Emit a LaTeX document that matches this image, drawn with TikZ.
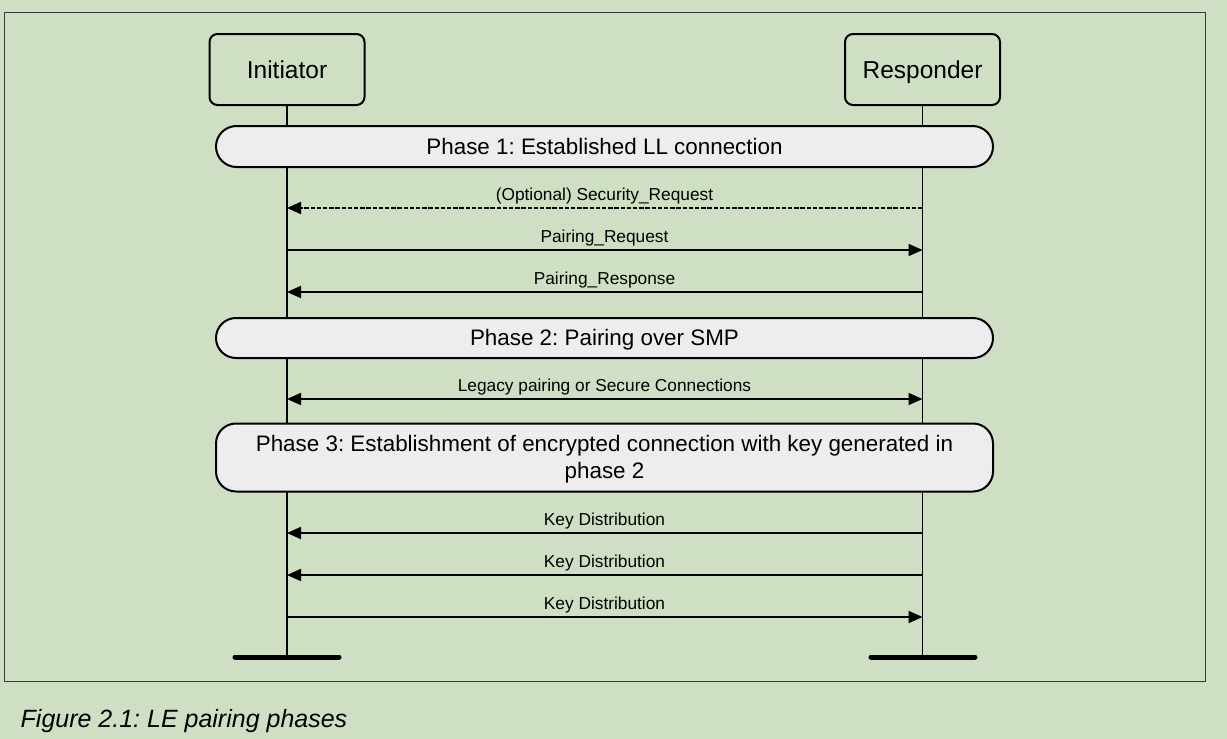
\documentclass[tikz,border=0pt]{standalone}
\usepackage{fontspec}
\setmainfont{Liberation Sans}
\frenchspacing
\usetikzlibrary{arrows.meta}
\definecolor{bgg}{HTML}{CFDFC4}
\definecolor{phasefill}{HTML}{EDEDED}
\definecolor{framec}{HTML}{3A3A3A}
\tikzset{
  actor/.style={draw=black, line width=2pt, rounded corners=8pt, minimum width=155pt, minimum height=71pt, inner sep=0pt, text height=17.6pt, text depth=0pt, font=\fontsize{24.5}{29}\selectfont},
  phasebox/.style={draw=black, line width=2pt, fill=phasefill, minimum width=777pt, inner sep=0pt, text height=15.8pt, text depth=0pt, font=\fontsize{22.4}{26}\selectfont},
  phasetext/.style={anchor=base, inner sep=0pt, font=\fontsize{22.4}{26}\selectfont},
  life/.style={line width=1.8pt},
  msg/.style={line width=1.8pt, -{Triangle[length=14pt,width=12pt]}},
  bimsg/.style={line width=1.8pt, {Triangle[length=14pt,width=12pt]}-{Triangle[length=14pt,width=12pt]}},
  dmsg/.style={msg, line width=2pt, dash pattern=on 4.3pt off 1.9pt},
  lbl/.style={anchor=base, font=\fontsize{17.3}{20}\selectfont, inner sep=0pt},
  endbar/.style={line width=5pt, line cap=round},
}
\begin{document}
\begin{tikzpicture}[x=1pt,y=-1pt]
\useasboundingbox (0,0) rectangle (1227,739);
\fill[bgg] (0,0) rectangle (1227,739);
\draw[framec, line width=1pt] (4,12) rectangle (1205,681);

% actors
\node[actor] (ini) at (287,69.5) {Initiator};
\node[actor] (res) at (922.5,69.5) {Responder};

% lifeline ends
\coordinate (iniend) at (287,657);
\coordinate (resend) at (922.5,657);
\draw[life] (ini.south) -- (iniend);
\draw[life] (res.south) -- (resend);
\draw[endbar] (235,657) -- (339,657);
\draw[endbar] (871,657) -- (975,657);

% phases
\node[phasebox, minimum height=41pt, rounded corners=20.5pt] (p1) at (604.5,146.5) {Phase 1: Established LL connection};
\node[phasebox, minimum height=40pt, rounded corners=20pt] (p2) at (604.5,338) {Phase 2: Pairing over SMP};
\node[phasebox, minimum height=68pt, rounded corners=20pt] (p3) at (604.5,457.5) {};
\node[phasetext] (p3a) at (604.5,451) {Phase 3: Establishment of encrypted connection with key generated in};
\node[phasetext] (p3b) at (604.5,478) {phase 2};

% message anchors on lifelines
\foreach \n/\y in {a/208,b/250,c/292,d/399,e/533,f/575,g/617}{
  \coordinate (i\n) at (287,\y);
  \coordinate (r\n) at (922.5,\y);
}

\draw[dmsg] (ra) -- (ia);
\draw[msg] (ib) -- (rb);
\draw[msg] (rc) -- (ic);
\draw[bimsg] (id) -- (rd);
\draw[msg] (re) -- (ie);
\draw[msg] (rf) -- (if);
\draw[msg] (ig) -- (rg);

\node[lbl] (la) at (604.5,200) {(Optional) Security\_Request};
\node[lbl] (lb) at (604.5,242.5) {Pairing\_Request};
\node[lbl] (lc) at (604.5,284.5) {Pairing\_Response};
\node[lbl] (ld) at (604.5,391) {Legacy pairing or Secure Connections};
\node[lbl] (le) at (604.5,525) {Key Distribution};
\node[lbl] (lf) at (604.5,567) {Key Distribution};
\node[lbl] (lg) at (604.5,609) {Key Distribution};

% caption
\node[anchor=base west, inner sep=0pt, font=\fontsize{25}{29}\selectfont\itshape] (cap) at (20.5,727.7) {Figure 2.1: LE pairing phases};
\end{tikzpicture}
\end{document}
